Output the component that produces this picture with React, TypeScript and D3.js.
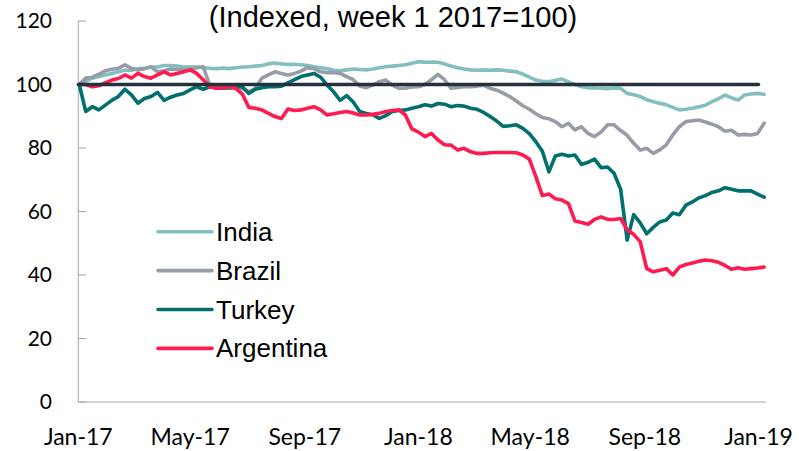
import * as d3 from "d3";

const seriesNames = ["India", "Brazil", "Turkey", "Argentina"];
const seriesColors = ["#84bfc0", "#979ca6", "#00706f", "#ff1a4f"];

// weekly index values, week 1 2017 = 100
const india = [
  100, 101, 102, 102.5, 103, 103.5, 104, 104.5, 104.5, 105, 105, 105.5, 105.5, 106, 106, 105.8,
  105.5, 105.6, 105.5, 105.3, 105.1, 105, 105.2, 105, 105.3, 105.5, 105.6, 105.8, 106, 106.5, 106.8,
  106.5, 106.3, 106.4, 106.2, 106, 105.6, 105.3, 105, 104.5, 104.3, 104.6, 104.9, 104.7, 104.6, 104.9,
  105.3, 105.6, 105.8, 106, 106.2, 106.7, 107.2, 107, 107.1, 107, 106.5, 105.8, 105.3, 104.9, 104.6,
  104.5, 104.6, 104.5, 104.6, 104.5, 104.2, 104, 103.3, 102.3, 101.4, 101, 100.9, 101.3, 101.7, 100.8,
  100, 99.3, 99, 98.9, 98.8, 98.7, 98.9, 98.8, 97.2, 96.8, 96.2, 95.2, 94.6, 94.1, 93.6, 92.8, 92,
  92.2, 92.5, 93, 93.5, 94.6, 95.5, 96.7, 95.8, 95.1, 96.7, 97, 97.2, 96.9,
];
const brazil = [
  100, 102, 102.3, 103.2, 104.3, 104.8, 105.1, 106.2, 105.1, 104.6, 105, 105.6, 104, 104.3, 104.9,
  104.7, 104.6, 104.9, 105.3, 105.6, 99.8, 99.5, 99, 98.8, 98.8, 98.8, 97.7, 98.8, 102, 103, 104, 103.5,
  103, 103.5, 104.2, 105.3, 105, 104, 103.7, 103.8, 103.5, 102.5, 101.5, 99.5, 99, 99.8, 100.9, 101.4,
  99.8, 98.8, 98.8, 99.2, 99.3, 100, 101.5, 103.2, 101.5, 98.8, 99.1, 99.3, 99.3, 99.5, 99.8, 98.8,
  98.2, 97.3, 96.2, 94.8, 93.3, 92.2, 90.8, 89.6, 89.2, 88.3, 86.7, 87.8, 85.7, 86.7, 84.6, 83.6, 85,
  87.3, 87.3, 85.5, 84, 81.5, 79.4, 79.9, 78.3, 79.4, 81, 84.1, 86.7, 88.3, 88.6, 88.8, 88.2, 87.5,
  86.7, 85.3, 85.6, 84.1, 84.3, 84.1, 84.6, 87.8,
];
const turkey = [
  100, 91.5, 93, 92, 93.5, 95, 96.2, 98.5, 96.7, 94.1, 95.6, 96.2, 97.5, 95, 96, 96.7, 97.2, 98.3,
  99.3, 98.5, 99.3, 99, 98.8, 99, 99.3, 99.3, 97.2, 98.5, 99, 99.3, 99.3, 99.5, 100.5, 101.5, 102.5,
  103, 103.5, 102.3, 99.8, 97.7, 95, 96.5, 94.5, 91.5, 90.9, 90.5, 89.3, 90.2, 91.5, 91.8, 92, 92.5,
  93, 93.6, 93.2, 94, 93.8, 93, 93.4, 93.2, 92.5, 92.2, 91.2, 89.9, 88.5, 86.8, 87, 87.3, 86.2, 84.5,
  82, 79, 72.5, 77.5, 78, 77.5, 77.8, 74.8, 75.5, 76.5, 73.8, 74, 72, 67, 51, 59, 56.4, 53, 55, 56.7,
  57.3, 59.5, 59, 62, 63, 64.3, 65, 66, 66.5, 67.5, 67, 66.5, 66.5, 66.5, 65.5, 64.5,
];
const argentina = [
  100, 100, 99.3, 99.6, 100.5, 101.4, 101.9, 103, 102, 103.5, 102.5, 102, 103, 104, 103, 103.5, 104,
  104.6, 103.5, 101.5, 99.3, 98.8, 99, 99.3, 98.8, 97, 92.8, 92.5, 92, 90.9, 89.9, 89.3, 92.3, 91.8,
  92, 92.5, 93, 92, 90.4, 90.8, 91.2, 91.5, 91, 90.4, 90.4, 90.6, 90.9, 91.5, 91.8, 92, 90.4, 86, 85,
  83.6, 84.6, 82.5, 81, 80.9, 79.4, 79.9, 78.8, 78.3, 78.3, 78.5, 78.6, 78.6, 78.6, 78.5, 77.8, 76.5,
  71, 65, 65.5, 64, 63.6, 62.5, 57, 56.5, 56, 57.5, 58.3, 57.5, 57.5, 57.8, 54.2, 52.8, 50.5, 42, 41,
  41.5, 42, 40, 42.5, 43.3, 43.8, 44.3, 44.7, 44.5, 44, 43, 41.8, 42.3, 41.8, 42, 42.2, 42.5,
];
const seriesValues = [india, brazil, turkey, argentina];

const baseLineDates = [new Date(2017, 0, 1), new Date(2019, 0, 1)];
const baseLineValue = 100;
const yTicks = [0, 20, 40, 60, 80, 100, 120];
const title = "(Indexed, week 1 2017=100)";

const firstWeek = new Date(2017, 0, 2);
const width = 799;
const height = 451;

export default function App() {
  const x = d3
    .scaleTime()
    .domain([new Date(2017, 0, 1), new Date(2019, 0, 9)])
    .range([78.3, 766]);
  const y = d3.scaleLinear().domain([0, 120]).range([402, 21]);

  const line = d3
    .line<number>()
    .x((_, i) => x(d3.timeWeek.offset(firstWeek, i)))
    .y((v) => y(v));

  const xTicks = x.ticks(d3.timeMonth.every(4)!);
  const fmt = d3.timeFormat("%b-%y");

  return (
    <svg
      width={width}
      height={height}
      style={{ position: "absolute", left: 0, top: 0, background: "#fff" }}
      fontFamily="'Liberation Sans', Arial, sans-serif"
    >
      <text x={393} y={27} textAnchor="middle" fontSize={29} fill="#000">
        {title}
      </text>

      {/* axes */}
      <line x1={78.3} x2={78.3} y1={y(120)} y2={y(0)} stroke="#a6a6a6" strokeWidth={1} />
      <line x1={78.3} x2={766} y1={y(0)} y2={y(0)} stroke="#a6a6a6" strokeWidth={1} />
      {yTicks.map((t) => (
        <g key={t}>
          <line x1={78.3} x2={86} y1={y(t)} y2={y(t)} stroke="#a6a6a6" strokeWidth={1} />
          <text x={52} y={y(t) + 7} textAnchor="end" fontSize={21} fontFamily="Lato, sans-serif" fill="#000">
            {t}
          </text>
        </g>
      ))}
      {xTicks.map((t) => (
        <text
          key={t.getTime()}
          x={x(t)}
          y={445}
          textAnchor="middle"
          fontSize={23}
          fontFamily="Lato, sans-serif"
          fill="#000"
        >
          {fmt(t)}
        </text>
      ))}

      {/* series */}
      {seriesValues.map((vals, k) => (
        <path
          key={seriesNames[k]}
          d={line(vals) ?? ""}
          fill="none"
          stroke={seriesColors[k]}
          strokeWidth={3.6}
          strokeLinejoin="round"
          strokeLinecap="round"
        />
      ))}
      <line
        x1={x(baseLineDates[0])}
        x2={x(baseLineDates[1])}
        y1={y(baseLineValue)}
        y2={y(baseLineValue)}
        stroke="#25313f"
        strokeWidth={3.4}
        strokeLinecap="round"
      />

      {/* legend */}
      {seriesNames.map((name, k) => {
        const ly = 231.7 + k * 38.9;
        return (
          <g key={name}>
            <line x1={158} x2={212} y1={ly} y2={ly} stroke={seriesColors[k]} strokeWidth={3.6} strokeLinecap="round" />
            <text x={216} y={ly + 9} fontSize={26} fill="#000">
              {name}
            </text>
          </g>
        );
      })}
    </svg>
  );
}
